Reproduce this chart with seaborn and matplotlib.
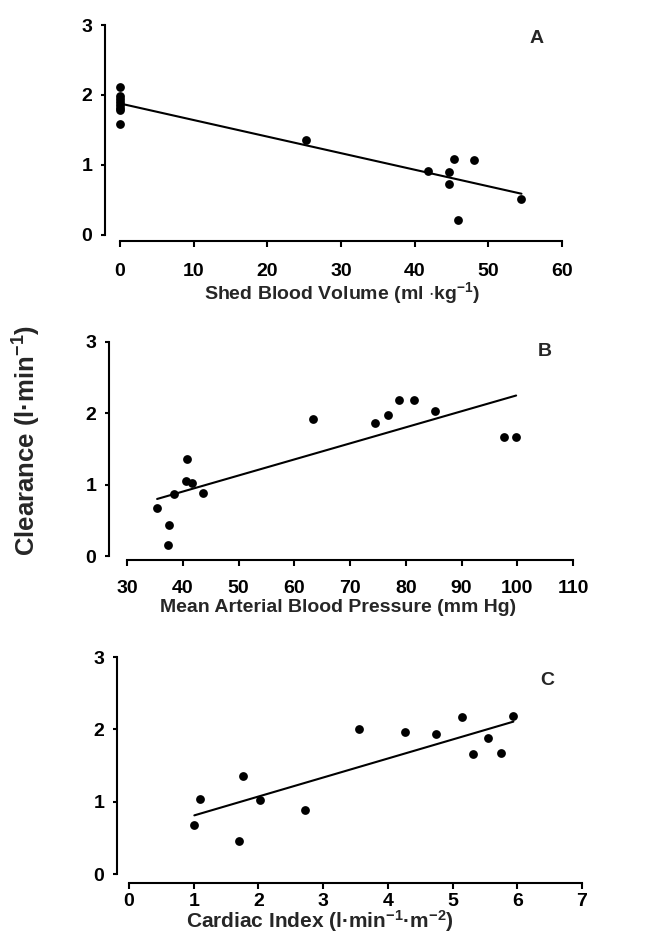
import matplotlib
matplotlib.use("Agg")
import matplotlib.pyplot as plt
import seaborn as sns

# panel A: shed blood volume (ml/kg) vs clearance
shed_volume = [0, 0, 0, 0, 0, 0, 0, 0, 25.2, 41.8, 44.7, 44.7, 45.4, 48.1, 45.9, 54.5]
clear_a = [2.11, 1.98, 1.94, 1.90, 1.86, 1.82, 1.79, 1.59, 1.36, 0.91, 0.90, 0.73, 1.09, 1.07, 0.21, 0.51]

# panel B: mean arterial blood pressure (mm Hg) vs clearance
map_mmhg = [35.4, 37.5, 37.3, 38.4, 40.7, 40.6, 41.7, 43.6, 63.3, 74.5, 76.8, 78.7, 81.4, 85.3, 97.6, 99.8]
clear_b = [0.67, 0.44, 0.15, 0.87, 1.36, 1.05, 1.03, 0.88, 1.92, 1.87, 1.97, 2.18, 2.18, 2.03, 1.67, 1.67]

# panel C: cardiac index vs clearance
cardiac_index = [1.01, 1.10, 1.70, 1.76, 2.02, 2.72, 3.55, 4.27, 4.75, 5.14, 5.32, 5.55, 5.75, 5.94]
clear_c = [0.68, 1.04, 0.46, 1.35, 1.03, 0.89, 2.01, 1.96, 1.94, 2.17, 1.66, 1.88, 1.67, 2.19]

y_ticks = [0, 1, 2, 3]
xticks_a = [0, 10, 20, 30, 40, 50, 60]
xticks_b = [30, 40, 50, 60, 70, 80, 90, 100, 110]
xticks_c = [0, 1, 2, 3, 4, 5, 6, 7]

sns.set_style("white")
plt.rcParams["font.family"] = ["Liberation Sans", "DejaVu Sans"]
plt.rcParams["font.weight"] = "bold"
plt.rcParams["mathtext.fontset"] = "custom"
plt.rcParams["mathtext.rm"] = "Liberation Sans:bold"
plt.rcParams["mathtext.it"] = "Liberation Sans:bold"
plt.rcParams["mathtext.bf"] = "Liberation Sans:bold"

W, H = 652, 942
fig = plt.figure(figsize=(W / 100, H / 100), dpi=100)


def panel(box, x, y, xticks, xlim, ylim, letter, letter_xy, xlabel, tickpad, labelpad,
          label_x, label_size):
    l, t, r, b = box
    ax = fig.add_axes([l / W, 1 - b / H, (r - l) / W, (b - t) / H])
    sns.regplot(x=x, y=y, ax=ax, ci=None, truncate=True, color="black",
                scatter_kws={"s": 40, "linewidths": 0, "alpha": 1},
                line_kws={"linewidth": 1.5})
    ax.set_xlim(*xlim)
    ax.set_ylim(*ylim)
    ax.set_xticks(xticks)
    ax.set_yticks(y_ticks)
    for s in ["top", "right"]:
        ax.spines[s].set_visible(False)
    ax.spines["left"].set_bounds(0, 3)
    ax.spines["bottom"].set_bounds(xticks[0], xticks[-1])
    for s in ["left", "bottom"]:
        ax.spines[s].set_color("black")
        ax.spines[s].set_linewidth(1.5)
    ax.tick_params(axis="x", direction="out", length=4, width=1.5, pad=tickpad,
                   labelsize=14, bottom=True, colors="black")
    ax.tick_params(axis="y", direction="out", length=3, width=1.5, pad=6,
                   labelsize=14, left=True, colors="black")
    ax.set_xlabel(xlabel, fontsize=label_size, fontweight="bold", labelpad=labelpad)
    ax.xaxis.label.set_x(label_x)
    ax.set_ylabel("")
    ax.text(letter_xy[0], letter_xy[1], letter, fontsize=14, fontweight="bold",
            ha="center", va="center")
    return ax


panel((105, 25, 562, 241), shed_volume, clear_a, xticks_a, (-2.04, 60), (-0.086, 3),
      "A", (56.6, 2.81), r"Shed Blood Volume (ml $\cdot$kg$^{-1}$)", 11.7, 0.3,
      0.519, 14)
panel((109, 342, 573, 560), map_mmhg, clear_b, xticks_b, (26.77, 110), (-0.056, 3),
      "B", (105, 2.86), "Mean Arterial Blood Pressure (mm Hg)", 10.2, 1.3,
      0.494, 14)
panel((117, 657, 582, 883), cardiac_index, clear_c, xticks_c, (-0.185, 7), (-0.124, 3),
      "C", (6.47, 2.68), r"Cardiac Index (l·min$^{-1}$·m$^{-2}$)", 3, -1.2,
      0.437, 15)

fig.text(27 / W, 1 - 440 / H, r"Clearance (l·min$^{-1}$)", rotation=90,
         ha="center", va="center", fontsize=18.5, fontweight="bold")

fig.savefig("out.png", dpi=100, facecolor="white")
